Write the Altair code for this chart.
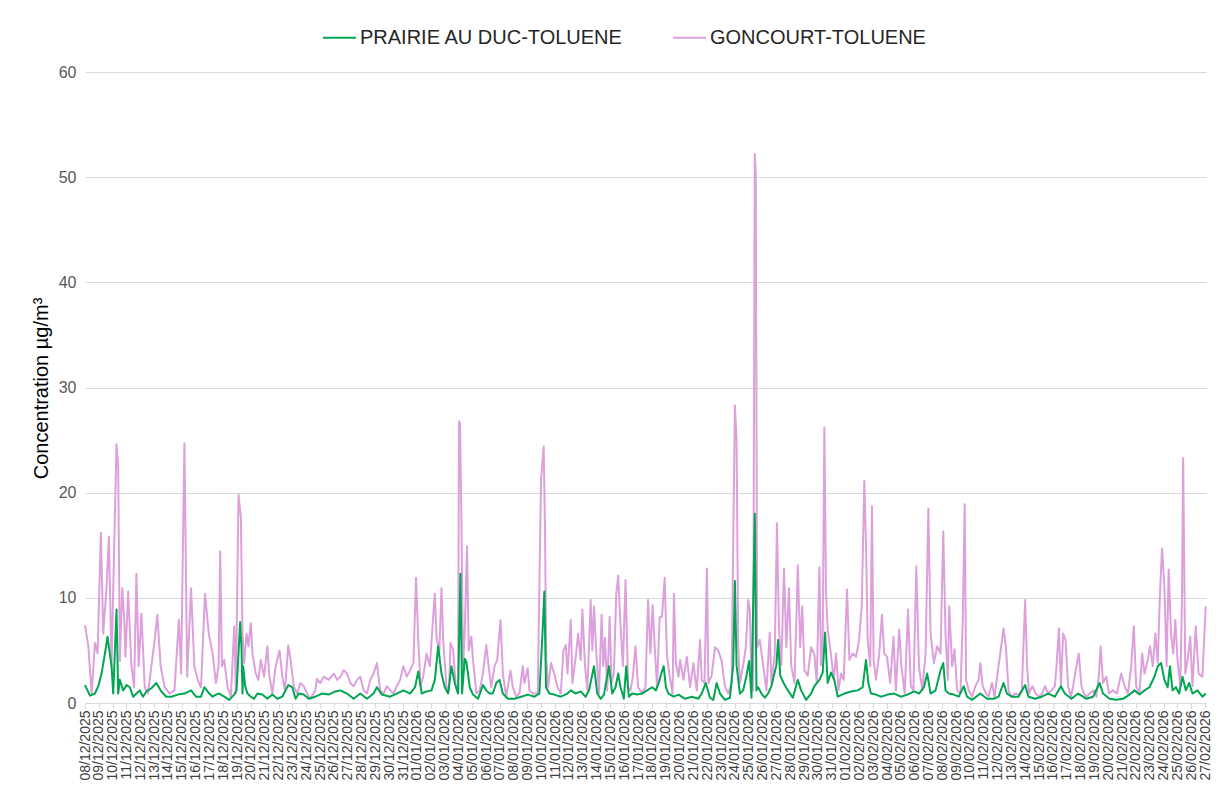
import altair as alt
import pandas as pd

START = pd.Timestamp("2025-12-08 00:00")
SERIES = ["PRAIRIE AU DUC-TOLUENE", "GONCOURT-TOLUENE"]
COLORS = ["#00a651", "#dda0dd"]
Y_TICKS = [0, 10, 20, 30, 40, 50, 60]

# day offsets from 08/12/2025 00:00 and concentrations (µg/m3)
goncourt_day = [
    0, 0.24, 0.48, 0.72, 0.91, 1.15, 1.32, 1.56, 1.73, 1.92,
    2.11, 2.28, 2.4, 2.52, 2.69, 2.83, 2.93, 3.12, 3.36, 3.55,
    3.72, 3.88, 4.08, 4.32, 4.56, 4.8, 5.04, 5.23, 5.47, 5.76,
    6.12, 6.47, 6.79, 6.95, 7.19, 7.39, 7.67, 7.91, 8.15, 8.39,
    8.68, 8.95, 9.23, 9.47, 9.66, 9.78, 9.9, 10.07, 10.31, 10.55,
    10.79, 10.91, 11.1, 11.27, 11.39, 11.51, 11.68, 11.82, 11.99, 12.11,
    12.35, 12.54, 12.71, 12.95, 13.19, 13.31, 13.55, 13.79, 14.07, 14.27,
    14.46, 14.7, 14.87, 15.1, 15.34, 15.58, 15.82, 16.06, 16.3, 16.66,
    16.78, 17.02, 17.26, 17.62, 18.0, 18.23, 18.47, 18.71, 18.95, 19.19,
    19.43, 19.67, 19.91, 20.15, 20.39, 20.63, 20.87, 21.11, 21.35, 21.59,
    21.83, 22.07, 22.31, 22.55, 22.79, 23.03, 23.27, 23.51, 23.75, 23.94,
    24.1, 24.27, 24.46, 24.7, 24.94, 25.18, 25.3, 25.42, 25.62, 25.78,
    25.9, 26.14, 26.33, 26.43, 26.62, 26.81, 26.98, 27.05, 27.12, 27.22,
    27.34, 27.46, 27.63, 27.75, 27.94, 28.06, 28.3, 28.54, 28.78, 29.02,
    29.19, 29.38, 29.62, 29.81, 30.05, 30.22, 30.46, 30.77, 30.94, 31.18,
    31.42, 31.66, 31.78, 32.02, 32.14, 32.38, 32.74, 32.98, 33.17, 33.26,
    33.36, 33.5, 33.7, 33.93, 34.17, 34.41, 34.6, 34.77, 34.89, 35.13,
    35.25, 35.49, 35.66, 35.85, 35.97, 36.16, 36.33, 36.57, 36.69, 36.81,
    36.98, 37.17, 37.36, 37.48, 37.6, 37.77, 37.94, 38.08, 38.25, 38.42,
    38.56, 38.73, 38.9, 39.09, 39.28, 39.45, 39.62, 39.81, 40.0, 40.29,
    40.53, 40.72, 40.89, 41.05, 41.2, 41.37, 41.56, 41.73, 41.92, 42.08,
    42.25, 42.49, 42.59, 42.73, 42.92, 43.04, 43.28, 43.52, 43.76, 44.0,
    44.24, 44.48, 44.6, 44.8, 44.98, 45.08, 45.32, 45.56, 45.8, 46.04,
    46.28, 46.52, 46.76, 46.88, 47.0, 47.12, 47.24, 47.36, 47.6, 47.79,
    47.96, 48.08, 48.2, 48.32, 48.44, 48.51, 48.61, 48.8, 49.04, 49.28,
    49.52, 49.64, 49.88, 50.04, 50.19, 50.36, 50.55, 50.72, 50.91, 51.07,
    51.31, 51.55, 51.72, 51.87, 52.03, 52.27, 52.51, 52.75, 52.92, 53.11,
    53.23, 53.35, 53.47, 53.59, 53.71, 53.95, 54.15, 54.32, 54.49, 54.68,
    54.87, 55.11, 55.28, 55.52, 55.76, 55.98, 56.17, 56.36, 56.48, 56.6,
    56.79, 56.91, 57.03, 57.2, 57.44, 57.63, 57.8, 58.0, 58.23, 58.47,
    58.64, 58.88, 59.04, 59.28, 59.52, 59.72, 59.91, 60.12, 60.31, 60.55,
    60.79, 60.99, 61.15, 61.39, 61.63, 61.87, 62.07, 62.23, 62.4, 62.5,
    62.71, 62.88, 63.07, 63.31, 63.48, 63.62, 63.72, 63.91, 64.15, 64.39,
    64.63, 64.75, 64.92, 65.16, 65.35, 65.59, 65.78, 66.02, 66.19, 66.43,
    66.6, 66.79, 66.98, 67.27, 67.51, 67.75, 67.99, 68.13, 68.27, 68.51,
    68.75, 68.99, 69.23, 69.42, 69.66, 69.9, 70.14, 70.26, 70.43, 70.58,
    70.74, 70.91, 71.1, 71.3, 71.46, 71.7, 71.87, 72.06, 72.25, 72.42,
    72.66, 72.95, 73.14, 73.33, 73.45, 73.62, 73.86, 74.05, 74.34, 74.63,
    74.94, 75.18, 75.42, 75.66, 75.85, 76.02, 76.26, 76.45, 76.62, 76.86,
    77.02, 77.22, 77.41, 77.58, 77.74, 77.89, 78.06, 78.22, 78.37, 78.54,
    78.7, 78.85, 79.01, 79.21, 79.33, 79.42, 79.57, 79.74, 79.93, 80.09,
    80.33, 80.53, 80.81, 81.05,
]
goncourt_val = [
    7.4, 5.4, 0.9, 5.7, 4.7, 16.2, 6.6, 11.0, 15.8, 3.5,
    14.9, 24.6, 22.5, 4.0, 10.9, 8.2, 4.4, 10.6, 3.5, 1.5,
    12.3, 3.5, 8.5, 1.5, 0.9, 3.5, 6.0, 8.4, 3.5, 1.5,
    0.9, 1.2, 7.9, 2.8, 24.7, 2.5, 10.9, 3.5, 2.2, 1.5,
    10.4, 6.6, 4.7, 1.9, 3.5, 14.4, 3.5, 4.1, 1.5, 0.6,
    7.3, 0.9, 19.8, 17.7, 6.6, 3.8, 6.6, 5.4, 7.6, 4.7,
    2.8, 2.2, 4.1, 2.5, 5.4, 2.8, 0.9, 3.5, 5.0, 2.5,
    1.2, 5.5, 4.1, 1.6, 0.9, 1.9, 1.6, 0.9, 0.4, 1.2,
    2.3, 1.9, 2.5, 2.2, 2.8, 2.2, 2.5, 3.1, 2.8, 1.9,
    1.6, 2.2, 2.5, 1.2, 0.9, 2.2, 2.8, 3.8, 1.2, 0.9,
    1.6, 1.2, 0.9, 1.6, 2.2, 3.5, 2.5, 3.1, 3.8, 11.9,
    6.0, 1.6, 2.5, 4.7, 3.5, 8.2, 10.4, 6.3, 4.7, 10.9,
    6.0, 1.6, 1.2, 5.7, 5.1, 1.6, 0.9, 26.8, 26.5, 17.7,
    3.5, 6.6, 14.9, 5.0, 6.3, 4.1, 0.9, 1.2, 2.8, 5.5,
    3.5, 1.5, 3.5, 4.1, 7.9, 2.8, 0.6, 3.1, 1.5, 0.6,
    0.9, 3.5, 1.9, 3.3, 1.2, 0.9, 0.9, 21.2, 24.4, 17.1,
    4.1, 1.5, 3.8, 2.8, 1.5, 0.9, 5.0, 5.5, 2.8, 7.9,
    1.9, 4.4, 6.6, 4.1, 8.9, 3.5, 1.2, 9.8, 5.0, 9.2,
    4.7, 0.9, 8.4, 3.5, 6.2, 1.2, 8.2, 1.9, 2.8, 10.4,
    12.1, 7.3, 3.5, 11.7, 1.5, 1.2, 2.5, 5.4, 1.5, 0.9,
    1.5, 9.8, 4.7, 9.3, 5.4, 1.5, 8.2, 8.2, 11.9, 4.7,
    2.8, 0.9, 10.4, 3.8, 2.5, 4.1, 2.2, 4.4, 1.5, 3.8,
    1.2, 6.0, 2.2, 1.9, 12.8, 1.9, 2.6, 5.3, 5.0, 4.0,
    1.6, 0.9, 1.9, 15.3, 28.3, 25.0, 5.3, 1.9, 3.6, 5.3,
    9.8, 8.8, 1.9, 1.2, 52.2, 50.2, 5.3, 6.0, 3.6, 1.2,
    6.7, 1.9, 4.6, 17.1, 7.0, 3.6, 12.8, 5.3, 10.9, 3.6,
    1.9, 13.1, 5.3, 9.2, 3.1, 2.6, 5.3, 4.6, 1.9, 12.9,
    3.6, 6.0, 26.2, 10.5, 7.0, 4.6, 2.2, 4.7, 1.2, 2.8,
    2.2, 10.8, 4.1, 4.7, 4.4, 6.0, 9.2, 21.1, 15.2, 6.0,
    3.5, 18.7, 4.1, 2.2, 4.7, 8.4, 4.7, 4.4, 1.9, 6.3,
    1.2, 7.0, 3.5, 0.9, 8.9, 1.6, 1.2, 13.0, 3.5, 1.2,
    4.7, 18.5, 6.6, 3.8, 5.4, 4.7, 16.3, 6.6, 2.2, 9.2,
    3.5, 5.1, 1.2, 0.9, 7.9, 18.9, 2.2, 1.2, 0.6, 1.6,
    2.2, 3.8, 1.6, 0.9, 0.6, 1.9, 0.6, 3.1, 4.7, 7.1,
    5.3, 1.2, 0.6, 0.9, 0.8, 1.2, 9.8, 3.5, 0.9, 1.6,
    0.9, 0.6, 0.9, 1.6, 0.9, 1.2, 1.6, 3.5, 7.1, 1.6,
    6.6, 6.0, 1.6, 0.6, 1.6, 3.5, 4.7, 1.6, 0.9, 0.6,
    0.9, 1.2, 0.6, 2.8, 5.4, 1.9, 2.5, 0.9, 1.2, 0.9,
    2.8, 1.6, 0.9, 3.5, 7.3, 1.6, 0.9, 4.7, 2.8, 4.1,
    5.4, 3.5, 6.6, 3.8, 10.4, 14.7, 11.1, 3.5, 12.7, 6.6,
    4.7, 7.9, 4.1, 1.6, 9.8, 23.3, 2.8, 4.1, 6.3, 1.6,
    7.3, 2.8, 2.5, 9.2,
]

prairie_day = [
    0, 0.36, 0.72, 0.96, 1.2, 1.44, 1.63, 1.92, 2.04, 2.28,
    2.4, 2.52, 2.76, 3.0, 3.24, 3.48, 3.72, 3.96, 4.2, 4.44,
    4.8, 5.16, 5.52, 5.88, 6.24, 6.71, 7.19, 7.67, 8.03, 8.39,
    8.63, 8.99, 9.23, 9.47, 9.71, 10.07, 10.43, 10.79, 10.96, 11.22,
    11.32, 11.39, 11.44, 11.58, 11.75, 11.99, 12.23, 12.47, 12.83, 13.19,
    13.55, 13.91, 14.27, 14.7, 14.99, 15.23, 15.46, 15.82, 16.18, 16.66,
    17.14, 17.62, 18.1, 18.47, 18.95, 19.43, 19.91, 20.39, 20.87, 21.11,
    21.47, 22.07, 22.55, 23.03, 23.51, 23.87, 24.1, 24.35, 24.7, 25.06,
    25.3, 25.54, 25.78, 26.02, 26.26, 26.5, 26.74, 26.98, 27.15, 27.27,
    27.46, 27.58, 27.7, 27.82, 28.06, 28.42, 28.78, 29.02, 29.26, 29.5,
    29.74, 29.98, 30.22, 30.58, 31.06, 31.54, 32.02, 32.5, 32.86, 33.1,
    33.22, 33.34, 33.58, 33.93, 34.41, 34.89, 35.13, 35.49, 35.85, 36.21,
    36.45, 36.81, 37.05, 37.29, 37.53, 37.89, 38.13, 38.37, 38.56, 38.73,
    38.97, 39.14, 39.33, 39.57, 39.93, 40.29, 40.65, 41.01, 41.29, 41.49,
    41.68, 41.85, 42.01, 42.2, 42.57, 42.92, 43.4, 43.88, 44.36, 44.6,
    44.89, 45.2, 45.44, 45.68, 45.92, 46.28, 46.64, 46.88, 47.0, 47.12,
    47.36, 47.6, 47.84, 48.03, 48.2, 48.44, 48.56, 48.68, 48.92, 49.16,
    49.4, 49.64, 50.0, 50.12, 50.28, 50.52, 50.83, 51.19, 51.55, 51.79,
    52.15, 52.51, 52.75, 53.11, 53.35, 53.52, 53.71, 53.95, 54.19, 54.44,
    54.92, 55.4, 55.88, 56.24, 56.48, 56.65, 56.84, 57.2, 57.56, 58.04,
    58.52, 59.0, 59.48, 59.96, 60.32, 60.67, 60.91, 61.15, 61.51, 61.87,
    62.07, 62.23, 62.47, 62.83, 63.19, 63.55, 63.79, 64.15, 64.75, 65.23,
    65.71, 66.07, 66.43, 66.67, 67.03, 67.51, 67.99, 68.23, 68.71, 69.19,
    69.66, 70.14, 70.58, 70.86, 71.34, 71.82, 72.18, 72.42, 72.9, 73.38,
    73.62, 74.1, 74.58, 75.06, 75.54, 75.9, 76.26, 76.62, 76.98, 77.34,
    77.58, 77.82, 78.06, 78.3, 78.46, 78.65, 78.89, 79.13, 79.37, 79.61,
    79.85, 80.09, 80.45, 80.81, 81.05,
]
prairie_val = [
    1.7, 0.7, 0.9, 1.6, 2.8, 4.7, 6.3, 3.5, 0.9, 8.9,
    0.9, 2.2, 1.2, 1.7, 1.5, 0.6, 0.9, 1.2, 0.6, 1.1,
    1.4, 1.9, 1.1, 0.6, 0.6, 0.8, 0.9, 1.2, 0.6, 0.6,
    1.5, 0.9, 0.6, 0.8, 0.9, 0.6, 0.3, 0.8, 1.2, 7.7,
    5.2, 0.9, 3.5, 1.6, 0.9, 0.6, 0.4, 0.9, 0.8, 0.4,
    0.8, 0.4, 0.6, 1.7, 1.5, 0.4, 0.9, 0.8, 0.4, 0.6,
    0.9, 0.8, 1.1, 1.2, 0.9, 0.4, 0.9, 0.4, 0.9, 1.5,
    0.8, 0.6, 0.9, 1.2, 0.9, 1.5, 3.0, 0.9, 1.1, 1.2,
    2.2, 5.4, 2.8, 1.5, 0.9, 3.5, 1.9, 0.9, 12.3, 0.9,
    4.2, 3.9, 2.8, 1.5, 0.8, 0.4, 1.7, 1.2, 0.9, 0.9,
    1.9, 2.2, 0.9, 0.4, 0.4, 0.6, 0.8, 0.6, 0.9, 7.0,
    10.6, 1.5, 0.9, 0.8, 0.6, 0.9, 1.2, 0.9, 1.1, 0.6,
    1.2, 3.5, 0.9, 0.4, 0.8, 3.5, 0.9, 1.5, 2.8, 1.5,
    0.4, 3.5, 0.6, 0.9, 0.8, 0.9, 1.2, 1.5, 1.2, 1.9,
    2.8, 3.5, 1.5, 0.9, 0.6, 0.8, 0.4, 0.6, 0.4, 0.9,
    1.9, 0.5, 0.3, 1.9, 0.9, 0.3, 0.5, 3.6, 11.6, 3.6,
    0.9, 1.2, 2.6, 4.0, 0.5, 18.0, 1.2, 1.5, 0.9, 0.5,
    0.9, 1.6, 3.6, 6.0, 2.6, 1.9, 1.2, 0.5, 2.2, 1.2,
    0.3, 0.9, 1.6, 2.2, 2.9, 6.7, 1.9, 2.9, 2.2, 0.6,
    0.9, 1.1, 1.2, 1.5, 4.1, 1.9, 0.9, 0.8, 0.6, 0.8,
    0.9, 0.6, 0.8, 1.1, 0.9, 1.5, 2.8, 0.9, 1.2, 3.1,
    3.8, 1.2, 0.9, 0.8, 0.6, 1.6, 0.6, 0.3, 0.9, 0.4,
    0.4, 0.6, 1.9, 0.9, 0.6, 0.6, 1.7, 0.6, 0.4, 0.6,
    0.9, 0.6, 1.6, 0.9, 0.4, 0.9, 0.6, 0.4, 0.6, 1.9,
    0.9, 0.4, 0.3, 0.4, 0.8, 1.2, 0.8, 1.2, 1.5, 2.5,
    3.5, 3.8, 2.2, 1.5, 3.5, 1.2, 1.5, 0.9, 2.5, 1.2,
    1.9, 0.9, 1.2, 0.6, 0.9,
]


def frame(days, vals, name):
    t = START + pd.to_timedelta(pd.Series(days, dtype=float), unit="D")
    return pd.DataFrame({
        "time": t.dt.strftime("%Y-%m-%dT%H:%M:%S"),
        "value": vals,
        "series": name,
    })


df_prairie = frame(prairie_day, prairie_val, SERIES[0])
df_goncourt = frame(goncourt_day, goncourt_val, SERIES[1])

FONT = "Liberation Sans"

x_enc = alt.X(
    "time:T",
    title=None,
    scale=alt.Scale(
        domain=[
            alt.DateTime(year=2025, month=12, date=8, hours=0),
            alt.DateTime(year=2026, month=2, date=27, hours=1, minutes=40),
        ],
        nice=False,
    ),
    axis=alt.Axis(
        format="%d/%m/%Y",
        tickCount={"interval": "day", "step": 1},
        labelAngle=270,
        labelFont=FONT,
        labelFontSize=14,
        labelColor="#404040",
        labelOverlap=False,
        labelFlush=False,
        labelBound=False,
        labelPadding=2,
        grid=False,
        domainColor="#d9d9d9",
        tickColor="#d9d9d9",
        tickSize=5,
    ),
)

y_enc = alt.Y(
    "value:Q",
    scale=alt.Scale(domain=[0, 60], nice=False),
    axis=alt.Axis(
        values=Y_TICKS,
        title="Concentration µg/m³",
        titleFont=FONT,
        titleFontSize=20,
        titleFontWeight="normal",
        titleColor="#000000",
        titleAngle=270,
        titleAlign="center",
        titleBaseline="middle",
        titleX=-44,
        titleY=316,
        labelFont=FONT,
        labelFontSize=16,
        labelColor="#595959",
        labelPadding=9,
        domain=False,
        ticks=False,
        tickSize=0,
        grid=True,
        gridColor="#d9d9d9",
        gridWidth=1,
    ),
)

color_enc = alt.Color(
    "series:N",
    scale=alt.Scale(domain=SERIES, range=COLORS),
    legend=alt.Legend(
        title=None,
        orient="none",
        legendX=237,
        legendY=-52,
        direction="horizontal",
        symbolType="stroke",
        symbolSize=1089,
        symbolStrokeWidth=2,
        labelFont=FONT,
        labelFontSize=20,
        labelColor="#262626",
        labelLimit=400,
        labelOffset=3,
        columnPadding=45,
        padding=0,
    ),
)

pink = alt.Chart(df_goncourt).mark_line(strokeWidth=2, strokeJoin="round").encode(
    x=x_enc, y=y_enc, color=color_enc
)
green = alt.Chart(df_prairie).mark_line(strokeWidth=2, strokeJoin="round").encode(
    x=x_enc, y=y_enc, color=color_enc
)

chart = (
    alt.layer(pink, green)
    .properties(
        width=1121,
        height=631,
        autosize=alt.AutoSizeParams(type="none"),
        padding={"left": 77, "top": 64, "right": 7, "bottom": 80},
        background="white",
    )
    .configure_view(stroke=None)
)

chart.save("out.html", embed_options={"renderer": "svg", "actions": False})
